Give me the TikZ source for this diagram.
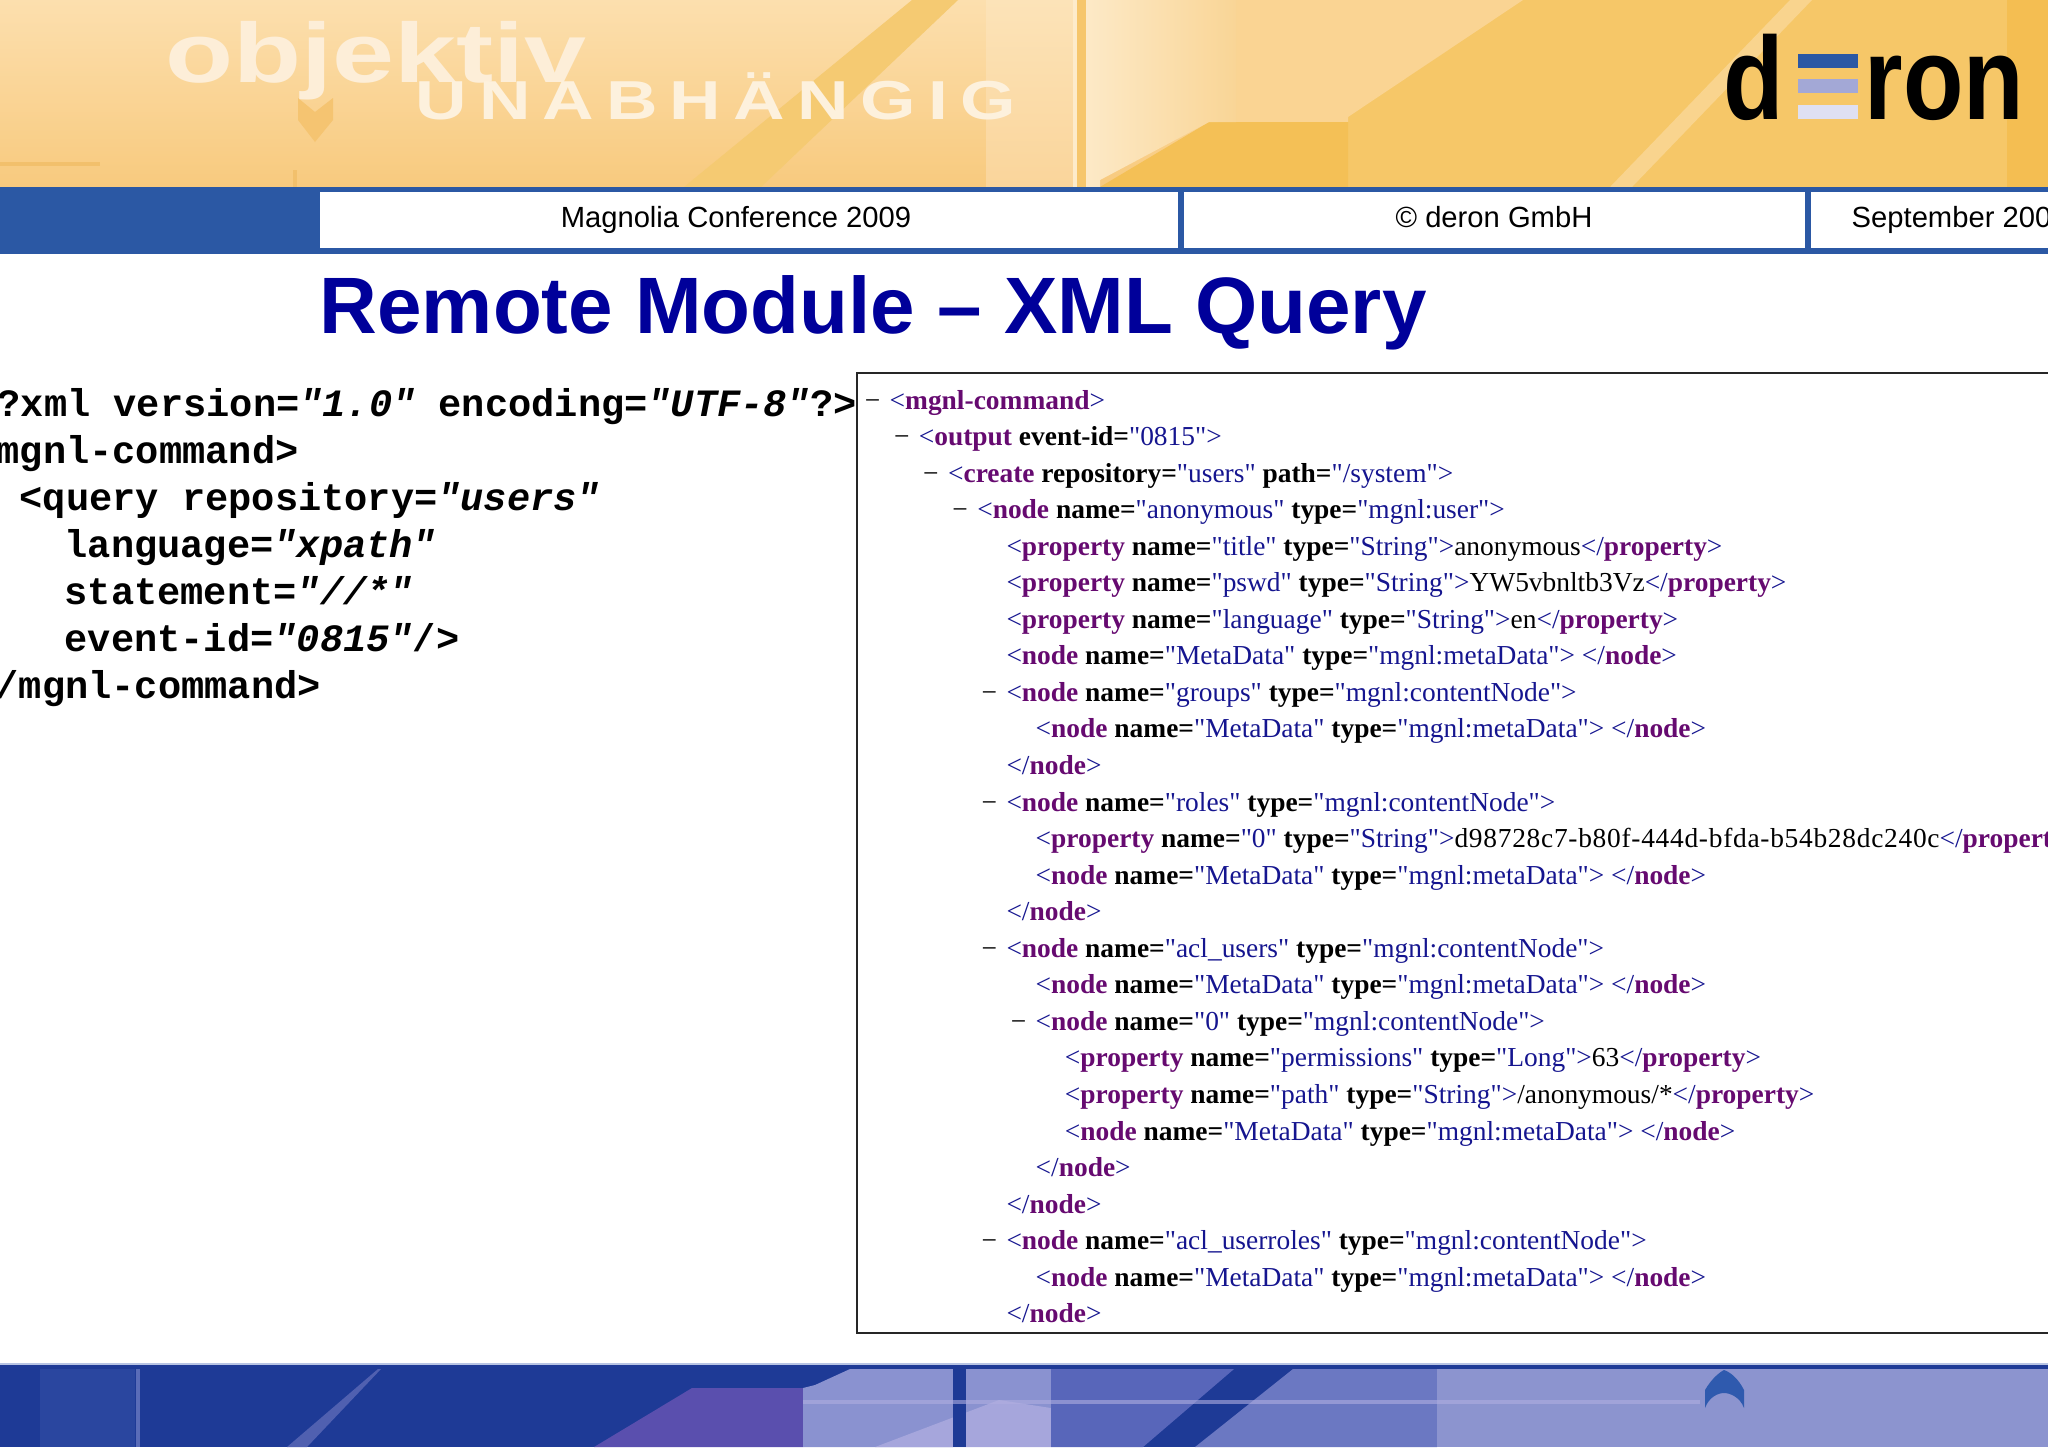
\documentclass[tikz,border=0pt]{standalone}
\usepackage{fontspec}
\usetikzlibrary{calc}
\setmainfont{Liberation Sans}
\newfontfamily\codefont{Liberation Mono}
\newfontfamily\xmlfont{Liberation Serif}
\newfontfamily\uuidfont[LetterSpace=2.6]{Liberation Serif}
\newfontfamily\logofont[FakeStretch=0.84]{Liberation Sans}
\newfontfamily\bigfont[FakeStretch=1.32]{Liberation Sans}
\newfontfamily\wordfont[FakeStretch=1.3,LetterSpace=22]{Liberation Sans}

\definecolor{barblue}{HTML}{2B58A4}
\definecolor{titleblue}{HTML}{00009A}
\definecolor{xmltagc}{HTML}{660A70}
\definecolor{xmlvalc}{HTML}{15158F}
\definecolor{deepblue}{HTML}{1E3A96}
\newcommand{\hexcolor}[1]{\definecolor{c#1}{HTML}{#1}}
\hexcolor{FCDFAE}\hexcolor{F8CA7E}\hexcolor{F6C768}\hexcolor{FAD493}\hexcolor{F4C056}\hexcolor{FDEBCB}
\hexcolor{F9D596}\hexcolor{FCE3B8}\hexcolor{FAD59B}
\hexcolor{F6C66C}\hexcolor{F5CA72}\hexcolor{F9D48E}\hexcolor{F4BE52}\hexcolor{F5C471}\hexcolor{F2C06C}
\hexcolor{FDEED8}\hexcolor{FDF1DD}\hexcolor{A3A8D6}\hexcolor{DFE0F2}\hexcolor{B8C4E4}\hexcolor{2A469F}
\hexcolor{5A6CB8}\hexcolor{5060B0}\hexcolor{5A4FAE}\hexcolor{8A92D0}\hexcolor{A6A6DC}\hexcolor{5866BA}
\hexcolor{6B78C2}\hexcolor{8C94CF}\hexcolor{B0AEE0}\hexcolor{2F5AAE}

\newcommand{\xmltag}[1]{\textcolor{xmltagc}{\textbf{#1}}}
\newcommand{\xmlval}[1]{\textcolor{xmlvalc}{#1}}
\newcommand{\xmlattr}[2]{\textbf{#1=}\xmlval{"#2"}}
\newcommand{\xmlopen}[2]{\xmlval{<}\xmltag{#1}#2\xmlval{>}}
\newcommand{\xmlclose}[1]{\xmlval{</}\xmltag{#1}\xmlval{>}}
\newcommand{\xmlnode}[2]{\xmlopen{node}{ \xmlattr{name}{#1} \xmlattr{type}{mgnl:#2}}}
\newcommand{\xmlprop}[3]{\xmlopen{property}{ \xmlattr{name}{#1} \xmlattr{type}{#2}}#3\xmlclose{property}}
\newcommand{\xmlmeta}{\xmlnode{MetaData}{metaData} \xmlclose{node}}
\newcommand{\codeval}[1]{\textit{"#1"}}

\begin{document}
\begin{tikzpicture}[x=0.01cm,y=-0.01cm,
    headtext/.style={inner sep=0,anchor=base,font=\fontsize{8.3}{10}\selectfont},
    logotext/.style={inner sep=0,anchor=base west,font=\logofont\bfseries\fontsize{33.5}{40}\selectfont},
    codeline/.style={inner sep=0,anchor=base west,font=\codefont\bfseries\fontsize{11}{13}\selectfont},
    xmlline/.style={inner sep=0,anchor=base west,font=\xmlfont\fontsize{7.8}{10}\selectfont}]
    \path[use as bounding box] (0,0) rectangle (2048,1447);

    % top banner
    \shade[top color=cFCDFAE,bottom color=cF8CA7E] (0,0) rectangle (2048,187);
    \fill[cF6C768] (1348,0) rectangle (2048,187);
    \fill[cFAD493] (1236,0) -- (1523,0) -- (1348,117) -- (1348,122) -- (1236,122) -- cycle;
    \fill[cF4C056] (1209,122) -- (1348,122) -- (1348,187) -- (1100,187) -- cycle;
    \shade[top color=cFCE3B8,bottom color=cFAD59B] (986,0) rectangle (1073,187);
    \shade[left color=cFDEBCB,right color=cF9D596] (1073,0) -- (1236,0) -- (1236,122) -- (1209,122) -- (1100,180) -- (1100,187) -- (1073,187) -- cycle;
    \fill[cF6C66C] (1077,0) rectangle (1086,187);
    \fill[cF5CA72] (912,0) -- (958,0) -- (761,187) -- (684,187) -- cycle;
    \fill[cF9D48E] (1790,0) -- (1812,0) -- (1632,187) -- (1610,187) -- cycle;
    \fill[cF4BE52] (2007,0) rectangle (2048,187);
    \fill[cF5C471] (298,98) -- (315,112) -- (333,98) -- (333,120) -- (315,142) -- (298,120) -- cycle;
    \fill[cF2C06C] (0,162) rectangle (100,166);
    \fill[cF2C06C] (293,170) rectangle (297,187);

    \node[inner sep=0,anchor=base west,text=cFDEED8,font=\bigfont\bfseries\fontsize{24}{26}\selectfont] (brandone) at (165,82) {objektiv};
    \node[inner sep=0,anchor=base west,text=cFDF1DD,font=\wordfont\bfseries\fontsize{15.6}{18}\selectfont] (brandtwo) at (415,119) {UNABHÄNGIG};

    \node[logotext] (logod) at (1723,119) {d};
    \node[logotext] (logoron) at (1864,119) {ron};
    \fill[barblue] (1798,54) rectangle (1858,68);
    \fill[cA3A8D6] (1798,79) rectangle (1858,93);
    \fill[cDFE0F2] (1798,105) rectangle (1858,119);

    % blue bar
    \fill[barblue] (0,187) rectangle (2048,254);
    \fill[white] (320,192) rectangle (1178,248);
    \fill[white] (1184,192) rectangle (1805,248);
    \fill[white] (1811,192) rectangle (2048,248);
    \node[headtext] (conf) at (736,227) {Magnolia Conference 2009};
    \node[headtext] (copy) at (1494,227) {© deron GmbH};
    \node[headtext,anchor=base west] (date) at (1851,227) {September 200};

    \node[inner sep=0,anchor=base west,text=titleblue,font=\bfseries\fontsize{22.75}{26}\selectfont] (title) at (319,333) {Remote Module – XML Query};

    % query
    \node[codeline] (code1) at (-3,416) {?xml version=\codeval{1.0} encoding=\codeval{UTF-8}?>};
    \node[codeline] (code2) at (-4,463) {mgnl-command>};
    \node[codeline] (code3) at (19,510) {<query repository=\codeval{users}};
    \node[codeline] (code4) at (64,557) {language=\codeval{xpath}};
    \node[codeline] (code5) at (64,604) {statement=\codeval{//*}};
    \node[codeline] (code6) at (64,651) {event-id=\codeval{0815}/>};
    \node[codeline] (code7) at (-5,698) {/mgnl-command>};

    % answer
    \draw[line width=0.6pt,color=black!85] (2050,373) -- (857,373) -- (857,1333) -- (2050,1333);
    \foreach[count=\i] \lvl/\mk/\txt in {
        0/1/{\xmlopen{mgnl-command}{}},
        1/1/{\xmlopen{output}{ \xmlattr{event-id}{0815}}},
        2/1/{\xmlopen{create}{ \xmlattr{repository}{users} \xmlattr{path}{/system}}},
        3/1/{\xmlnode{anonymous}{user}},
        4/0/{\xmlprop{title}{String}{anonymous}},
        4/0/{\xmlprop{pswd}{String}{YW5vbnltb3Vz}},
        4/0/{\xmlprop{language}{String}{en}},
        4/0/{\xmlmeta},
        4/1/{\xmlnode{groups}{contentNode}},
        5/0/{\xmlmeta},
        4/0/{\xmlclose{node}},
        4/1/{\xmlnode{roles}{contentNode}},
        5/0/{\xmlopen{property}{ \xmlattr{name}{0} \xmlattr{type}{String}}{\uuidfont d98728c7-b80f-444d-bfda-b54b28dc240c}\xmlval{</}\xmltag{propert}},
        5/0/{\xmlmeta},
        4/0/{\xmlclose{node}},
        4/1/{\xmlnode{acl\_users}{contentNode}},
        5/0/{\xmlmeta},
        5/1/{\xmlnode{0}{contentNode}},
        6/0/{\xmlprop{permissions}{Long}{63}},
        6/0/{\xmlprop{path}{String}{/anonymous/*}},
        6/0/{\xmlmeta},
        5/0/{\xmlclose{node}},
        4/0/{\xmlclose{node}},
        4/1/{\xmlnode{acl\_userroles}{contentNode}},
        5/0/{\xmlmeta},
        4/0/{\xmlclose{node}}} {
        \node[xmlline] (xml\i) at ({889+29.2*\lvl},{409+36.55*(\i-1)}) {\txt};
        \ifnum\mk=1
            \node[xmlline,anchor=base east] (dash\i) at ($(xml\i.base west)+(-8,0)$) {−};
        \fi
    }

    % bottom banner
    \fill[deepblue] (0,1364) rectangle (2048,1447);
    \fill[cB8C4E4] (0,1363) rectangle (2048,1365);
    \fill[c2A469F] (40,1369) rectangle (135,1447);
    \fill[c5A6CB8] (136,1369) rectangle (140,1447);
    \fill[c5060B0] (378,1369) -- (381,1369) -- (307,1447) -- (287,1447) -- cycle;
    \fill[c5A4FAE] (692,1388) -- (803,1388) -- (803,1447) -- (594,1447) -- cycle;
    \fill[c8A92D0] (850,1369) -- (953,1369) -- (953,1447) -- (803,1447) -- (803,1388) -- (815,1385) -- cycle;
    \fill[c8A92D0] (966,1369) rectangle (1051,1447);
    \fill[cA6A6DC] (999,1400) -- (1051,1408) -- (1051,1447) -- (875,1447) -- cycle;
    \fill[deepblue] (953,1369) rectangle (966,1447);
    \fill[c5866BA] (1051,1369) -- (1234,1369) -- (1143,1447) -- (1051,1447) -- cycle;
    \fill[c6B78C2] (1293,1369) -- (1437,1369) -- (1437,1447) -- (1195,1447) -- cycle;
    \fill[c8C94CF] (1437,1369) rectangle (2048,1447);
    \fill[cB0AEE0,opacity=0.6] (803,1400) rectangle (1700,1404);
    \fill[c2F5AAE] (1705,1408) -- (1705,1390) .. controls (1712,1378) and (1720,1372) .. (1724,1370) .. controls (1730,1372) and (1738,1378) .. (1744,1390) -- (1744,1408) .. controls (1740,1397) and (1730,1393) .. (1724,1393) .. controls (1718,1393) and (1709,1397) .. (1705,1408) -- cycle;
\end{tikzpicture}
\end{document}
